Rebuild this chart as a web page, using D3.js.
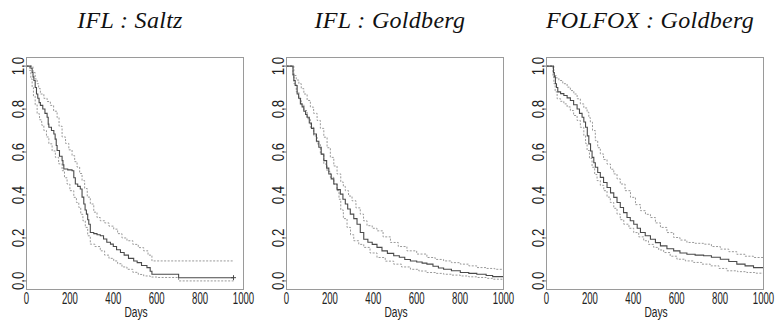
<!DOCTYPE html>
<html>
<head>
<meta charset="utf-8">
<script src="https://cdn.jsdelivr.net/npm/d3@7"></script>
<style>
  body { margin: 0; background: #fff; }
  svg { display: block; }
  .box { fill: none; stroke: #9a9a9a; stroke-width: 1; }
  .tick-lab { font-family: "Liberation Sans", Arial, sans-serif; fill: #222; }
  .title { font-family: "Liberation Serif", "DejaVu Serif", serif; font-style: italic; font-size: 24px; fill: #111; }
</style>
</head>
<body>
<svg width="778" height="327"></svg>
<script>
// panel titles
var titles = ["IFL : Saltz", "IFL : Goldberg", "FOLFOX : Goldberg"];
var xTicks = [0, 200, 400, 600, 800, 1000];
var yTicks = [0.0, 0.2, 0.4, 0.6, 0.8, 1.0];

// Kaplan-Meier estimate and CI bounds, [day, survival]
var saltzEst = [[0,1],[15,1],[20,0.99],[26,0.97],[30,0.95],[34,0.933],[40,0.90],[46,0.87],[52,0.85],[58,0.83],[64,0.817],[75,0.80],[85,0.78],[95,0.762],[100,0.73],[103,0.715],[115,0.70],[126,0.684],[132,0.66],[137,0.63],[141,0.607],[152,0.58],[164,0.56],[168,0.54],[172,0.521],[190,0.517],[210,0.513],[218,0.48],[225,0.451],[236,0.44],[248,0.428],[256,0.39],[264,0.358],[270,0.33],[276,0.311],[282,0.285],[287,0.264],[294,0.225],[310,0.22],[325,0.215],[340,0.21],[355,0.195],[370,0.18],[387,0.171],[400,0.16],[415,0.145],[433,0.132],[450,0.12],[470,0.105],[494,0.093],[510,0.085],[530,0.072],[555,0.062],[570,0.045],[578,0.031],[701,0.015],[954,0.015]];
var saltzUp = [[0,1],[22,1],[30,0.97],[40,0.94],[49,0.918],[56,0.895],[64,0.87],[80,0.85],[95,0.835],[110,0.817],[125,0.79],[141,0.76],[150,0.72],[164,0.67],[180,0.64],[195,0.61],[210,0.583],[222,0.555],[233,0.53],[245,0.50],[256,0.467],[268,0.43],[280,0.39],[294,0.358],[310,0.32],[325,0.295],[340,0.28],[360,0.27],[380,0.255],[402,0.241],[420,0.22],[440,0.20],[463,0.187],[490,0.17],[515,0.155],[540,0.14],[560,0.12],[578,0.093],[954,0.093]];
var saltzLo = [[0,1],[14,0.98],[20,0.94],[26,0.90],[32,0.86],[40,0.82],[49,0.778],[60,0.75],[70,0.725],[80,0.70],[92,0.67],[103,0.638],[118,0.605],[133,0.575],[148,0.545],[164,0.513],[175,0.48],[187,0.451],[200,0.42],[218,0.389],[230,0.365],[241,0.342],[250,0.31],[260,0.28],[271,0.249],[282,0.21],[294,0.171],[315,0.16],[340,0.14],[360,0.12],[380,0.105],[402,0.093],[420,0.08],[440,0.065],[463,0.054],[490,0.04],[515,0.03],[540,0.023],[570,0.018],[601,0.016],[701,0.0],[954,0.0]];
// censored observation marks on the estimate
var saltzCens = [[954,0.015]];

var goldIflEst = [[0,1],[26,1],[30,0.96],[34,0.933],[40,0.91],[49,0.87],[56,0.85],[64,0.824],[72,0.81],[80,0.79],[88,0.775],[95,0.762],[105,0.735],[115,0.71],[126,0.684],[138,0.65],[149,0.622],[160,0.59],[172,0.56],[185,0.525],[195,0.498],[206,0.475],[218,0.451],[233,0.425],[248,0.404],[260,0.38],[271,0.358],[282,0.335],[294,0.311],[310,0.29],[325,0.264],[340,0.225],[356,0.194],[375,0.18],[395,0.17],[417,0.156],[440,0.14],[465,0.128],[494,0.117],[520,0.11],[545,0.1],[571,0.093],[600,0.088],[625,0.083],[647,0.078],[675,0.068],[700,0.06],[724,0.054],[760,0.047],[801,0.039],[840,0.035],[877,0.031],[920,0.025],[950,0.02],[1000,0.02]];
var goldIflUp = [[0,1],[30,1],[34,0.956],[45,0.935],[57,0.918],[68,0.895],[80,0.87],[95,0.84],[110,0.809],[125,0.78],[141,0.747],[156,0.71],[172,0.669],[187,0.62],[202,0.575],[218,0.535],[233,0.498],[250,0.46],[262,0.44],[271,0.42],[286,0.395],[302,0.373],[320,0.34],[340,0.311],[355,0.28],[371,0.257],[395,0.245],[417,0.233],[445,0.205],[479,0.179],[515,0.16],[555,0.14],[600,0.125],[647,0.109],[685,0.1],[724,0.093],[760,0.085],[801,0.078],[840,0.07],[877,0.062],[920,0.058],[960,0.054],[1000,0.054]];
var goldIflLo = [[0,1],[26,1],[30,0.95],[34,0.918],[45,0.88],[57,0.848],[68,0.82],[80,0.793],[95,0.755],[110,0.715],[125,0.675],[141,0.638],[156,0.59],[172,0.544],[187,0.51],[202,0.482],[218,0.45],[233,0.42],[242,0.38],[250,0.33],[262,0.29],[279,0.249],[295,0.215],[310,0.187],[333,0.17],[356,0.156],[385,0.13],[417,0.109],[455,0.092],[494,0.078],[530,0.065],[571,0.054],[610,0.046],[647,0.039],[690,0.035],[724,0.031],[760,0.027],[801,0.023],[840,0.019],[877,0.016],[920,0.012],[950,0.008],[1000,0.008]];

var folfoxEst = [[0,1],[26,1],[32,0.97],[36,0.95],[41,0.918],[46,0.9],[52,0.88],[65,0.872],[80,0.863],[95,0.852],[110,0.84],[125,0.82],[141,0.80],[152,0.78],[164,0.762],[172,0.74],[180,0.715],[188,0.675],[195,0.638],[203,0.605],[210,0.575],[218,0.55],[225,0.529],[236,0.505],[248,0.482],[263,0.458],[279,0.435],[295,0.41],[310,0.389],[325,0.365],[340,0.342],[355,0.318],[371,0.295],[386,0.28],[402,0.264],[418,0.245],[433,0.225],[455,0.21],[479,0.194],[502,0.178],[525,0.163],[555,0.15],[586,0.14],[615,0.13],[647,0.124],[685,0.12],[724,0.117],[760,0.11],[801,0.101],[840,0.09],[877,0.078],[915,0.07],[954,0.062],[1000,0.059]];
var folfoxUp = [[0,1],[30,1],[34,0.956],[45,0.945],[57,0.933],[75,0.918],[95,0.902],[110,0.886],[126,0.87],[141,0.848],[156,0.824],[172,0.805],[187,0.785],[195,0.76],[202,0.739],[212,0.70],[225,0.653],[236,0.62],[248,0.591],[263,0.565],[279,0.544],[295,0.52],[310,0.498],[325,0.475],[340,0.451],[362,0.42],[387,0.389],[410,0.355],[433,0.327],[456,0.31],[479,0.295],[502,0.27],[525,0.249],[555,0.225],[586,0.202],[615,0.19],[647,0.179],[685,0.175],[724,0.171],[760,0.16],[801,0.148],[840,0.136],[877,0.124],[915,0.115],[954,0.109],[1000,0.106]];
var folfoxLo = [[0,1],[26,1],[30,0.95],[34,0.918],[40,0.88],[49,0.848],[65,0.836],[80,0.824],[95,0.81],[110,0.793],[125,0.77],[141,0.747],[156,0.715],[172,0.677],[180,0.64],[187,0.607],[198,0.57],[210,0.529],[222,0.495],[233,0.467],[248,0.445],[264,0.42],[279,0.39],[294,0.365],[310,0.338],[325,0.311],[340,0.285],[356,0.264],[380,0.245],[402,0.225],[425,0.205],[448,0.187],[470,0.17],[494,0.156],[517,0.144],[540,0.132],[570,0.115],[601,0.101],[640,0.093],[678,0.086],[715,0.078],[755,0.07],[795,0.058],[831,0.047],[880,0.043],[923,0.039],[960,0.036],[1000,0.034]];

var panels = [
  {title: titles[0], est: saltzEst, up: saltzUp, lo: saltzLo, cens: saltzCens},
  {title: titles[1], est: goldIflEst, up: goldIflUp, lo: goldIflLo, cens: []},
  {title: titles[2], est: folfoxEst, up: folfoxUp, lo: folfoxLo, cens: []}
];

var svg = d3.select("svg");
var lefts = [26.5, 286.5, 546.5];
var pw = 217, plotTop = 57.5, plotBottom = 289.5;
var ph = plotBottom - plotTop;

panels.forEach(function(p, i) {
  var x = d3.scaleLinear().domain([0, 1000]).range([0, pw]);
  var y = d3.scaleLinear().domain([-0.04, 1.04]).range([ph, 0]);
  var g = svg.append("g").attr("transform", "translate(" + lefts[i] + "," + plotTop + ")");

  // title
  svg.append("text")
      .attr("class", "title")
      .attr("x", lefts[i] + pw / 2 - 5)
      .attr("y", 28)
      .attr("text-anchor", "middle")
      .style("letter-spacing", "0.3px")
      .text(p.title);

  // curves
  var line = d3.line()
      .x(function(d) { return x(d[0]); })
      .y(function(d) { return y(d[1]); })
      .curve(d3.curveStepAfter);

  [p.lo, p.up].forEach(function(ci) {
    g.append("path")
        .attr("d", line(ci))
        .attr("fill", "none")
        .attr("stroke", "#999")
        .attr("stroke-width", 1)
        .attr("stroke-dasharray", "2,1.5");
  });
  g.append("path")
      .attr("d", line(p.est))
      .attr("fill", "none")
      .attr("stroke", "#4a4a4a")
      .attr("stroke-width", 1.1);

  // censor marks
  g.selectAll(".cens").data(p.cens).enter()
    .append("path")
      .attr("class", "cens")
      .attr("d", function(d) {
        var cx = x(d[0]), cy = y(d[1]);
        return "M" + (cx - 2.5) + "," + cy + "H" + (cx + 2.5) + "M" + cx + "," + (cy - 2.5) + "V" + (cy + 2.5);
      })
      .attr("stroke", "#4a4a4a")
      .attr("stroke-width", 1);

  // box
  g.append("rect").attr("class", "box")
      .attr("x", 0).attr("y", 0)
      .attr("width", pw).attr("height", ph);

  // y ticks + labels (rotated, condensed)
  yTicks.forEach(function(t) {
    g.append("line")
        .attr("x1", -3).attr("x2", 0)
        .attr("y1", y(t)).attr("y2", y(t))
        .attr("stroke", "#777");
    g.append("text")
        .attr("class", "tick-lab")
        .attr("transform", "translate(-3," + y(t) + ") rotate(-90) scale(0.78,1)")
        .attr("text-anchor", "middle")
        .style("font-size", "17px")
        .text(d3.format(".1f")(t));
  });

  // x labels
  xTicks.forEach(function(t) {
    g.append("text")
        .attr("class", "tick-lab")
        .attr("transform", "translate(" + x(t) + "," + (303.5 - plotTop) + ") scale(0.6,1)")
        .attr("text-anchor", "middle")
        .style("font-size", "16px")
        .text(t);
  });

  g.append("text")
      .attr("class", "tick-lab")
      .attr("transform", "translate(" + (pw / 2 + 1) + "," + (317 - plotTop) + ") scale(0.68,1)")
      .attr("text-anchor", "middle")
      .style("font-size", "15px")
      .text("Days");
});
</script>
</body>
</html>
